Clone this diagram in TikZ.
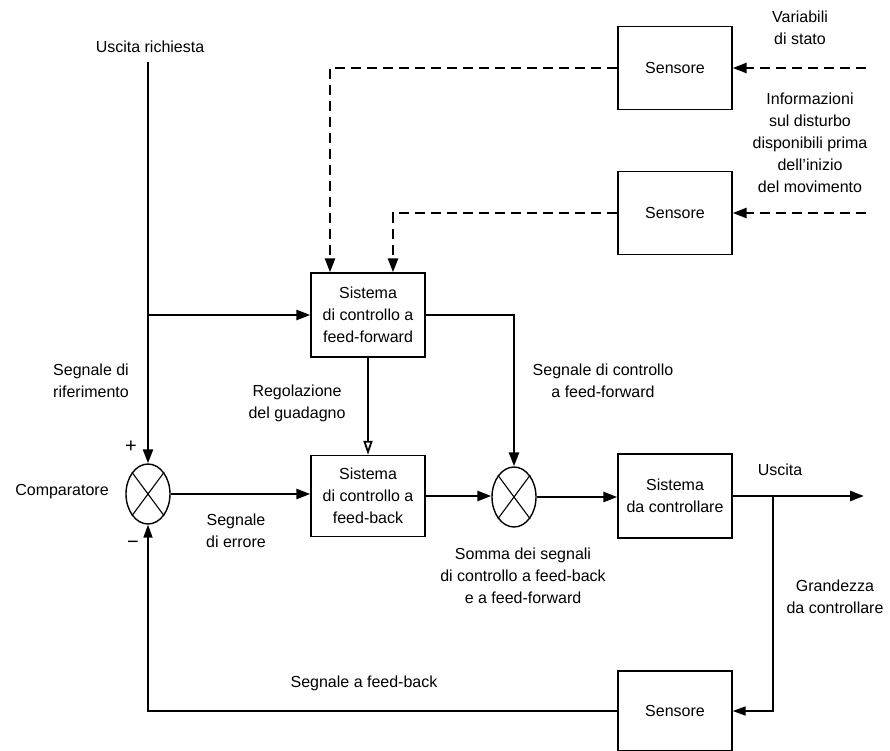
\documentclass[tikz,border=0pt]{standalone}
\usepackage{fontspec}
\setmainfont{Liberation Sans}
\usetikzlibrary{arrows.meta}
\usetikzlibrary{shapes.geometric}

\begin{document}
\begin{tikzpicture}[x=1pt,y=-1pt,
  every node/.style={font=\fontsize{16}{22}\selectfont},
  box/.style={draw, line width=1.4pt, minimum width=114pt, align=center, inner sep=0pt},
  junction/.style={draw, ellipse, line width=1.4pt, minimum width=44pt, minimum height=60pt, inner sep=0pt},
  lbl/.style={align=center, inner sep=0pt},
  sign/.style={inner sep=0pt, font=\fontsize{20}{22}\selectfont},
  sig/.style={line width=2.6pt, -{Triangle[length=14pt,width=10pt]}},
  thin sig/.style={line width=1.7pt, -{Triangle[length=13pt,width=9pt]}},
  ddash/.style={line width=2.6pt, dash pattern=on 10pt off 6pt, -{Triangle[length=14pt,width=10pt]}}]
\useasboundingbox (0,0) rectangle (890,751);
\coordinate (top) at (148,62);
\coordinate (br) at (148,315);
\coordinate (in1) at (866,68);
\coordinate (in2) at (866,213);
\coordinate (tap) at (773,496);
\coordinate (out) at (864,496);
% draws blocks
\node[box, minimum height=83pt] (s1) at (675,68) {Sensore};
\node[box, minimum height=83pt] (s2) at (675,213) {Sensore};
\node[box, minimum height=84pt] (ff) at (368,315) {Sistema\\di controllo a\\feed-forward};
\node[box, minimum height=81pt] (fb) at (368,496) {Sistema\\di controllo a\\feed-back};
\node[box, minimum height=84pt] (plant) at (675,496) {Sistema\\da controllare};
\node[box, minimum height=80pt] (s3) at (675,711) {Sensore};
% draws junctions
\node[junction] (cmp) at (148,494) {};
\node[junction] (sum) at (514,497) {};
\draw[line width=1.1pt] (cmp.north west) -- (cmp.south east) (cmp.north east) -- (cmp.south west);
\draw[line width=1.1pt] (sum.north west) -- (sum.south east) (sum.north east) -- (sum.south west);
% labels
\node[lbl] (req) at (150,47) {Uscita richiesta};
\node[lbl] (var) at (800,28) {Variabili\\di stato};
\node[lbl] (info) at (810,143) {Informazioni\\sul disturbo\\disponibili prima\\dell'inizio\\del movimento};
\node[lbl] (rif) at (91,381) {Segnale di\\riferimento};
\node[sign] (plus) at (131,447) {+};
\node[sign] (minus) at (133,545) {−};
\node[lbl] (comp) at (62,492) {Comparatore};
\node[lbl] (gain) at (297,403) {Regolazione\\del guadagno};
\node[lbl] (err) at (236,531) {Segnale\\di errore};
\node[lbl] (ffsig) at (603,381) {Segnale di controllo\\a feed-forward};
\node[lbl] (usc) at (780,470) {Uscita};
\node[lbl] (somma) at (523,576) {Somma dei segnali\\di controllo a feed-back\\e a feed-forward};
\node[lbl] (grand) at (835,597) {Grandezza\\da controllare};
\node[lbl] (fbsig) at (364,683) {Segnale a feed-back};
% draws connections
\draw[sig] (top) -- (cmp.north);
\draw[sig] (br) -- (ff.west);
\draw[sig] (cmp.east) -- (cmp.east -| fb.west);
\draw[line width=1.8pt, -{Triangle[open,length=14pt,width=9pt]}] (ff.south) -- (fb.north);
\draw[sig] (ff.east) -| (sum.north);
\draw[sig] (fb.east) -- (fb.east -| sum.west);
\draw[sig] (sum.east) -- (sum.east -| plant.west);
\draw[sig] (plant.east) -- (out);
\draw[thin sig] (tap) |- (s3.east);
\draw[thin sig] (s3.west) -| (cmp.south);
\draw[ddash] (in1) -- (s1.east);
\draw[ddash] (in2) -- (s2.east);
\draw[ddash] (s1.west) -| ([xshift=-38pt]ff.north);
\draw[ddash] (s2.west) -| ([xshift=25pt]ff.north);
\end{tikzpicture}
\end{document}
